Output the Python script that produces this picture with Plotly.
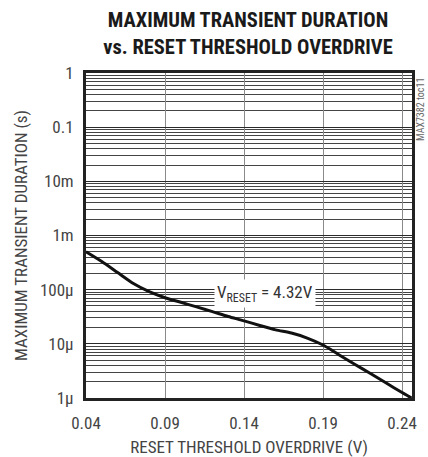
import plotly.graph_objects as go

# Data
overdrive_v = [0.04, 0.05, 0.06, 0.07, 0.08, 0.09, 0.10, 0.11, 0.12, 0.13, 0.14,
               0.15, 0.16, 0.17, 0.18, 0.19, 0.20, 0.21, 0.22, 0.23, 0.24, 0.246]
duration_s = [5.0e-4, 3.3e-4, 2.07e-4, 1.3e-4, 9.2e-5, 7.1e-5, 5.85e-5, 4.8e-5,
              3.93e-5, 3.2e-5, 2.66e-5, 2.18e-5, 1.81e-5, 1.58e-5, 1.28e-5, 9.5e-6,
              6.3e-6, 4.2e-6, 2.83e-6, 1.89e-6, 1.26e-6, 1.0e-6]

x_ticks = [0.04, 0.09, 0.14, 0.19, 0.24]
x_tick_labels = ["0.04", "0.09", "0.14", "0.19", "0.24"]
y_ticks = [1, 0.1, 0.01, 1e-3, 1e-4, 1e-5, 1e-6]
y_tick_labels = ["1", "0.1", "10m", "1m", "100μ", "10μ", "1μ"]

minor_y = [m * 10.0 ** e for e in range(-6, 0) for m in range(2, 10)]

FONT = "Liberation Sans Narrow, Roboto Condensed, Arial Narrow, sans-serif"

fig = go.Figure()
fig.add_trace(go.Scatter(x=overdrive_v, y=duration_s, mode="lines",
                         line=dict(color="#111111", width=3, shape="spline",
                                   smoothing=0.7),
                         showlegend=False, hoverinfo="skip"))

fig.update_layout(
    width=428, height=457,
    margin=dict(l=86, r=16, t=73, b=59, autoexpand=False),
    paper_bgcolor="white", plot_bgcolor="white",
    font=dict(family=FONT, color="#333333", size=16),
    title=dict(text="MAXIMUM TRANSIENT DURATION<br>vs. RESET THRESHOLD OVERDRIVE",
               x=248 / 428, xanchor="center", y=1 - 27 / 457, yanchor="middle",
               font=dict(family=FONT, size=20.5, color="#1a1a1a", weight="bold")),
    xaxis=dict(range=[0.04, 0.2463], tickvals=x_ticks, ticktext=x_tick_labels,
               showgrid=True, gridcolor="#8a8a8a", gridwidth=1,
               showline=True, linecolor="#222222", linewidth=3, mirror=True,
               ticks="", zeroline=False, tickfont=dict(size=17, color="#444444"),
               ticklabelstandoff=8, automargin=False,
               title=dict(text="RESET THRESHOLD OVERDRIVE (V)", standoff=12,
                          font=dict(size=17, color="#444444"))),
    yaxis=dict(type="log", range=[-6, 0], tickvals=y_ticks, ticktext=y_tick_labels,
               showgrid=True, gridcolor="#2a2a2a", gridwidth=1.3,
               minor=dict(tickvals=minor_y, showgrid=True, gridcolor="#444444",
                          gridwidth=1, ticks=""),
               showline=True, linecolor="#222222", linewidth=3, mirror=True,
               ticks="", zeroline=False, tickfont=dict(size=17, color="#444444"),
               ticklabelstandoff=6, automargin=False,
               title=dict(text="MAXIMUM TRANSIENT DURATION (s)", standoff=8,
                          font=dict(size=17, color="#444444"))),
)

fig.add_annotation(x=0.1533, y=-4.063, xref="x", yref="y",
                   text="V<sub>RESET</sub> = 4.32V", showarrow=False,
                   bgcolor="white", borderpad=2,
                   font=dict(family=FONT, size=17, color="#333333"))

fig.add_annotation(x=(420 - 86) / 326, y=(398 - 110) / 325, xref="paper", yref="paper",
                   xanchor="center", yanchor="middle",
                   text="MAX7382 toc11", showarrow=False, textangle=-90,
                   font=dict(family=FONT, size=10, color="#666666"))

fig.write_html("out.html", config={"displayModeBar": False},
               post_script="document.body.style.margin='0';")
